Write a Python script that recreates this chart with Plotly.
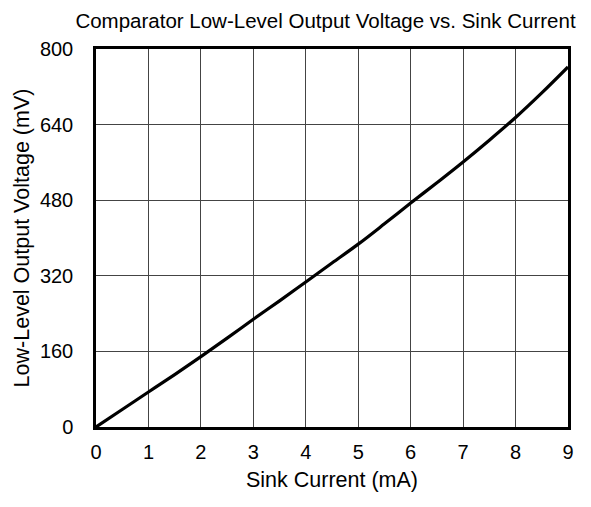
import plotly.graph_objects as go

sink_current_ma = [0, 0.5, 1, 1.5, 2, 2.5, 3, 3.5, 4, 4.5, 5, 5.5, 6, 6.5, 7, 7.5, 8, 8.5, 9]
output_voltage_mv = [0, 37, 74, 111, 149, 188, 228, 267, 307, 347, 387, 430, 474, 517, 561, 607, 655, 707, 762]
x_ticks = [0, 1, 2, 3, 4, 5, 6, 7, 8, 9]
y_ticks = [0, 160, 320, 480, 640, 800]

W, H = 583, 499  # page body has an 8px margin

fig = go.Figure()
fig.add_trace(go.Scatter(x=sink_current_ma, y=output_voltage_mv, mode="lines",
                         line=dict(color="black", width=3.2, shape="spline"), showlegend=False))

fig.update_layout(
    width=W, height=H,
    margin=dict(l=88, r=23, t=41, b=80, autoexpand=False),
    paper_bgcolor="white", plot_bgcolor="white",
    font=dict(family="Arial, Liberation Sans", size=20, color="black"),
    title=dict(text="Comparator Low-Level Output Voltage vs. Sink Current",
               x=317.5 / W, xanchor="center", xref="container",
               y=1 - 12.5 / H, yanchor="middle", yref="container",
               font=dict(size=20.5, color="black")),
)
fig.update_xaxes(range=[0, 9], tickvals=x_ticks, ticks="", ticklabelstandoff=5,
                 automargin=False,
                 showgrid=True, gridcolor="#444444", gridwidth=1,
                 showline=True, linecolor="black", linewidth=2.5, mirror=True, zeroline=False,
                 title=dict(text="Sink Current (mA)", font=dict(size=21.5), standoff=11))
fig.update_yaxes(range=[0, 800], tickvals=y_ticks, ticks="", ticklabelstandoff=16,
                 automargin=False,
                 showgrid=True, gridcolor="#444444", gridwidth=1,
                 showline=True, linecolor="black", linewidth=2.5, mirror=True, zeroline=False,
                 title=dict(text="Low-Level Output Voltage (mV)", font=dict(size=21.5), standoff=5))

fig.write_html("out.html")
